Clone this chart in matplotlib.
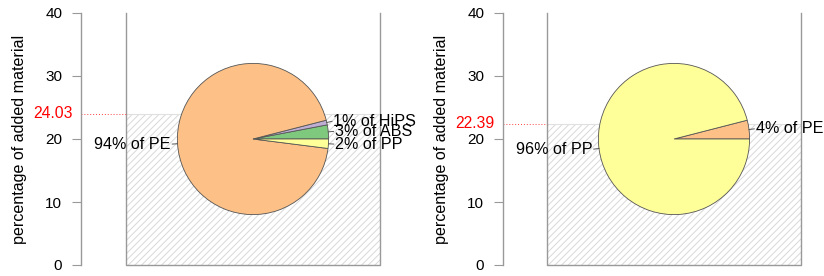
import numpy as np
import matplotlib
matplotlib.use("Agg")
import matplotlib.pyplot as plt
from matplotlib.patches import Rectangle

plt.rcParams['font.family'] = ['Liberation Sans', 'DejaVu Sans']
plt.rcParams['hatch.linewidth'] = 0.7

# left panel
left_sizes = [3, 1, 94, 2]
left_names = ["ABS", "HiPS", "PE", "PP"]
left_colors = ["#7fc97f", "#beaed4", "#fdc086", "#ffff99"]
left_value = 24.03

# right panel
right_sizes = [4, 96]
right_names = ["PE", "PP"]
right_colors = ["#fdc086", "#ffff99"]
right_value = 22.39

y_ticks = [0, 10, 20, 30, 40]
ylabel = "percentage of added material"

W, H = 824, 276
fig = plt.figure(figsize=(W / 100, H / 100), dpi=100)

px_per_unit = 252 / 40.0   # vertical scale, reused horizontally so the pie stays round


def draw_panel(left_px, right_px, box_offset_px, sizes, names, colors, value):
    ax = fig.add_axes([left_px / W, 1 - 265 / H, (right_px - left_px) / W, 252 / H])
    xmax = (right_px - left_px) / px_per_unit
    x0 = box_offset_px / px_per_unit
    cx = (x0 + xmax) / 2
    cy = 20
    r = 12

    # hatched fill up to the value
    ax.add_patch(Rectangle((x0, 0), xmax - x0, value, facecolor="white",
                           edgecolor="#d8d8d8", hatch="/////", linewidth=0, zorder=1))
    ax.plot([x0, xmax], [value, value], color="#e0e0e0", lw=0.8, zorder=1.5)
    # container
    ax.plot([x0, x0, xmax, xmax], [40, 0, 0, 40], color="#999999", lw=1.0,
            clip_on=False, zorder=2)
    # value marker
    ax.plot([0, x0], [value, value], color="#ff4040", lw=0.7, ls=(0, (1, 2)),
            clip_on=False, zorder=2)
    ax.text(-0.027, value, f"{value:.2f}", color="red", fontsize=11.3,
            ha="right", va="center", transform=ax.get_yaxis_transform())

    wedges, _ = ax.pie(sizes, colors=colors, startangle=0, counterclock=True,
                       center=(cx, cy), radius=r, frame=True,
                       wedgeprops=dict(edgecolor="#555555", linewidth=0.6))
    for w in wedges:
        w.set_zorder(3)

    for w, s, n in zip(wedges, sizes, names):
        ang = np.deg2rad((w.theta1 + w.theta2) / 2)
        ca, sa = np.cos(ang), np.sin(ang)
        ax.plot([cx + r * ca, cx + r * 1.07 * ca], [cy + r * sa, cy + r * 1.07 * sa],
                color="#555555", lw=0.7, zorder=3, clip_on=False)
        ax.text(cx + r * 1.09 * ca, cy + r * 1.09 * sa, f"{s}% of {n}",
                ha="left" if ca > 0 else "right", va="center", fontsize=11.6,
                zorder=4, clip_on=False)

    ax.set_xlim(0, xmax)
    ax.set_ylim(0, 40)
    ax.set_aspect("auto")
    ax.set_xticks([])
    ax.set_yticks(y_ticks)
    ax.tick_params(axis="y", length=6.5, width=0.8, color="#999999",
                   labelsize=11, pad=7)
    for side in ["top", "right", "bottom"]:
        ax.spines[side].set_visible(False)
    ax.spines["left"].set_color("#999999")
    ax.spines["left"].set_linewidth(1.0)
    ax.set_ylabel(ylabel, fontsize=11.6)
    ax.yaxis.set_label_coords(-0.18, 0.5)
    return ax


draw_panel(81, 380, 45, left_sizes, left_names, left_colors, left_value)
draw_panel(503, 801, 44, right_sizes, right_names, right_colors, right_value)

fig.savefig("out.png", dpi=100)
